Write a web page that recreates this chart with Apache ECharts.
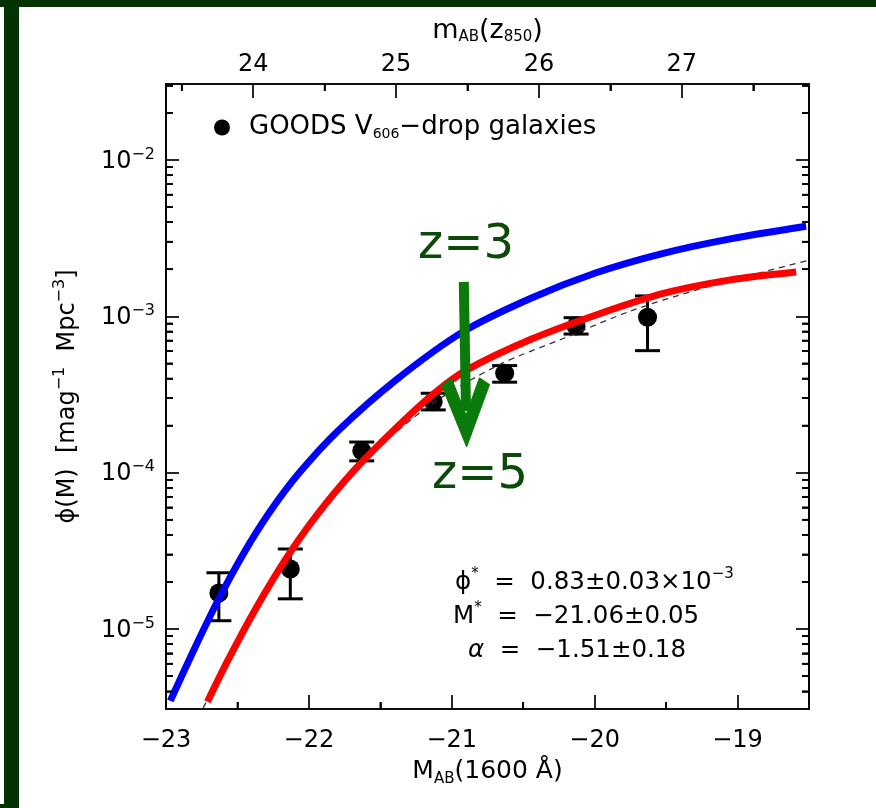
<!DOCTYPE html>
<html>
<head>
<meta charset="utf-8">
<script src="https://cdn.jsdelivr.net/npm/echarts@6/dist/echarts.min.js"></script>
<style>
  html, body { margin: 0; padding: 0; background: #fff; }
  #chart { position: absolute; left: 0; top: 0; width: 876px; height: 808px; }
  .band { position: absolute; background: #033303; }
</style>
</head>
<body>
<div id="chart"></div>
<div class="band" style="left:0;top:0;width:876px;height:7px;"></div>
<div class="band" style="left:4px;top:0;width:15px;height:808px;"></div>
<div class="band" style="left:0;top:804px;width:19px;height:4px;"></div>
<script>
// ---- axis extents and ticks ----
const xMin = -23, xMax = -18.5;          // M_AB(1600 A)
const yMin = 3.08e-6, yMax = 3.06e-2;    // phi(M)
const magOffset = 46.39;                 // m_AB(z850) - M_AB(1600 A)

const bottomTicks = [-23, -22, -21, -20, -19];
const bottomMinor = [-22.5, -21.5, -20.5, -19.5];
const topTicks = [24, 25, 26, 27];
const topMinor = [23.5, 24.5, 25.5, 26.5, 27.5];
const decadeTicks = [1e-5, 1e-4, 1e-3, 1e-2];
const minorMantissas = [2, 3, 4, 5, 6, 7, 8, 9];
const minorDecades = [1e-6, 1e-5, 1e-4, 1e-3, 1e-2];

// ---- GOODS V606-drop luminosity function ----
const absMag  = [-22.63, -22.13, -21.63, -21.13, -20.63, -20.13, -19.63];
const phiObs  = [1.70e-5, 2.42e-5, 1.38e-4, 2.84e-4, 4.33e-4, 8.67e-4, 9.86e-4];
const phiLow  = [1.13e-5, 1.56e-5, 1.19e-4, 2.52e-4, 3.79e-4, 7.70e-4, 6.03e-4];
const phiHigh = [2.29e-5, 3.25e-5, 1.57e-4, 3.22e-4, 4.84e-4, 9.80e-4, 1.35e-3];

// z=3 luminosity function (blue)
const z3M   = [-22.97, -22.81, -22.64, -22.46, -22.28, -22.07, -21.79, -21.39, -20.92, -20.45, -19.99, -19.52, -19.05, -18.52];
const z3Phi = [3.47e-6, 7.19e-6, 1.50e-5, 3.01e-5, 5.5e-5, 9.9e-5, 1.875e-4, 3.92e-4, 7.98e-4, 1.30e-3, 1.90e-3, 2.53e-3, 3.13e-3, 3.77e-3];

// z=5 luminosity function (red)
const z5M   = [-22.71, -22.56, -22.37, -22.16, -21.95, -21.69, -21.37, -21.13, -20.90, -20.45, -19.99, -19.52, -19.05, -18.59];
const z5Phi = [3.43e-6, 6.49e-6, 1.36e-5, 2.82e-5, 5.28e-5, 1.02e-4, 2.01e-4, 3.18e-4, 4.51e-4, 7.10e-4, 1.02e-3, 1.40e-3, 1.71e-3, 1.92e-3];

// Schechter fit (dashed)
const fitM   = [-22.74, -22.42, -22.07, -21.58, -21.16, -20.67, -20.22, -19.75, -19.26, -18.82, -18.50];
const fitPhi = [3.13e-6, 1.09e-5, 3.77e-5, 1.25e-4, 2.67e-4, 4.89e-4, 7.21e-4, 1.08e-3, 1.50e-3, 1.92e-3, 2.29e-3];

// arrow from the z=3 curve down to the z=5 curve: [M, phi]
const arrowTail = [-20.916, 1.66e-3];
const arrowTip  = [-20.896, 1.46e-4];

const minorTicks = [];
minorDecades.forEach(d => minorMantissas.forEach(m => {
  const v = m * d;
  if (v > yMin && v < yMax) minorTicks.push(v);
}));

const GRID = { left: 166, top: 84, width: 643, height: 625 };
const FONT = '"DejaVu Sans", "Liberation Sans", sans-serif';
const BLACK = '#000';
const lineStyle = { color: BLACK, width: 1.7 };
const minus = s => String(s).replace('-', '\u2212');
const pairs = (xs, ys) => xs.map((x, i) => [x, ys[i]]);
const SMOOTH = 0.3;
const MINOR_LEN = 7;

const chart = echarts.init(document.getElementById('chart'), null, { renderer: 'canvas' });

const supRich = {
  t: { fontFamily: FONT, fontSize: 24.5, color: BLACK, lineHeight: 28, verticalAlign: 'bottom' },
  g: { fontFamily: FONT, fontSize: 24.5, color: BLACK, lineHeight: 28, verticalAlign: 'bottom', fontStyle: 'italic' },
  s: { fontFamily: FONT, fontSize: 15, color: BLACK, lineHeight: 15, verticalAlign: 'top' }
};

// axes that only carry the short minor ticks along the frame
const minorXAxis = (position, min, max, values) => ({
  type: 'value', position, min, max,
  axisLine: { show: true, onZero: false, lineStyle },
  axisTick: { show: true, inside: true, length: MINOR_LEN, customValues: values, lineStyle },
  axisLabel: { show: false },
  splitLine: { show: false }
});
const minorYAxis = position => ({
  type: 'log', logBase: 10, position, min: yMin, max: yMax,
  axisLine: { show: true, onZero: false, lineStyle },
  axisTick: { show: true, inside: true, length: MINOR_LEN, customValues: minorTicks, lineStyle },
  axisLabel: { show: false },
  splitLine: { show: false }
});

const option = {
  animation: false,
  backgroundColor: '#fff',
  grid: Object.assign({ show: false, outerBoundsMode: 'none' }, GRID),
  xAxis: [
    {
      type: 'value', position: 'bottom', min: xMin, max: xMax,
      axisLine: { show: true, onZero: false, lineStyle },
      axisTick: { show: true, inside: true, length: 14, customValues: bottomTicks, lineStyle },
      axisLabel: { show: true, customValues: bottomTicks, color: BLACK, fontFamily: FONT, fontSize: 24, margin: 20, formatter: v => minus(v) },
      splitLine: { show: false },
      name: '{t|M}{s|AB}{t|(1600 \u00c5)}',
      nameLocation: 'middle', nameGap: 50,
      nameTextStyle: {
        rich: {
          t: { fontFamily: FONT, fontSize: 25, color: BLACK, lineHeight: 28, verticalAlign: 'top' },
          s: { fontFamily: FONT, fontSize: 15, color: BLACK, lineHeight: 15, verticalAlign: 'bottom' }
        }
      }
    },
    {
      type: 'value', position: 'top', min: xMin + magOffset, max: xMax + magOffset,
      axisLine: { show: true, onZero: false, lineStyle },
      axisTick: { show: true, inside: true, length: 14, customValues: topTicks, lineStyle },
      axisLabel: { show: true, customValues: topTicks, color: BLACK, fontFamily: FONT, fontSize: 24, margin: 7 },
      splitLine: { show: false },
      name: '{t|m}{s|AB}{t|(z}{s|850}{t|)}',
      nameLocation: 'middle', nameGap: 39,
      nameTextStyle: {
        rich: {
          t: { fontFamily: FONT, fontSize: 27, color: BLACK, lineHeight: 28, verticalAlign: 'top' },
          s: { fontFamily: FONT, fontSize: 15, color: BLACK, lineHeight: 15, verticalAlign: 'bottom' }
        }
      }
    },
    minorXAxis('bottom', xMin, xMax, bottomMinor),
    minorXAxis('top', xMin + magOffset, xMax + magOffset, topMinor)
  ],
  yAxis: [
    {
      type: 'log', logBase: 10, position: 'left', min: yMin, max: yMax,
      axisLine: { show: true, onZero: false, lineStyle },
      axisTick: { show: true, inside: true, length: 13, customValues: decadeTicks, lineStyle },
      axisLabel: {
        show: true, customValues: decadeTicks, margin: 11,
        formatter: v => '{b|10}{s|\u2212' + Math.abs(Math.round(Math.log10(v))) + '}',
        rich: {
          b: { fontFamily: FONT, fontSize: 24, color: BLACK, lineHeight: 27, verticalAlign: 'bottom' },
          s: { fontFamily: FONT, fontSize: 16, color: BLACK, lineHeight: 16, verticalAlign: 'top' }
        }
      },
      splitLine: { show: false },
      name: '{t|\u03d5(M)  [mag}{s|\u22121}{t|  Mpc}{s|\u22123}{t|]}',
      nameLocation: 'middle', nameGap: 86, nameRotate: 90,
      nameTextStyle: {
        rich: {
          t: { fontFamily: FONT, fontSize: 24, color: BLACK, lineHeight: 28, verticalAlign: 'bottom' },
          s: { fontFamily: FONT, fontSize: 16, color: BLACK, lineHeight: 16, verticalAlign: 'top' }
        }
      }
    },
    {
      type: 'log', logBase: 10, position: 'right', min: yMin, max: yMax,
      axisLine: { show: true, onZero: false, lineStyle },
      axisTick: { show: true, inside: true, length: 13, customValues: decadeTicks, lineStyle },
      axisLabel: { show: false },
      splitLine: { show: false }
    },
    minorYAxis('left'),
    minorYAxis('right')
  ],
  legend: {
    show: true, data: ['GOODS V606-drop galaxies'],
    left: 214, top: 114, padding: 0,
    icon: 'circle', itemWidth: 16, itemHeight: 16,
    formatter: () => '{g| }{t|GOODS V}{s|606}{t|\u2212drop galaxies}',
    textStyle: {
      rich: {
        g: { width: 14 },
        t: { fontFamily: FONT, fontSize: 26, color: BLACK, lineHeight: 27, verticalAlign: 'top' },
        s: { fontFamily: FONT, fontSize: 14, color: BLACK, lineHeight: 14, verticalAlign: 'bottom' }
      }
    }
  },
  series: [
    {
      type: 'custom', name: 'errors', xAxisIndex: 0, yAxisIndex: 0, z: 2,
      data: absMag.map((m, i) => [m, phiLow[i], phiHigh[i]]),
      encode: { x: 0, y: [1, 2] },
      renderItem: (params, api) => {
        const lo = api.coord([api.value(0), api.value(1)]);
        const hi = api.coord([api.value(0), api.value(2)]);
        const hw = 12.5;
        const st = { stroke: BLACK, lineWidth: 3, fill: null };
        return {
          type: 'group', children: [
            { type: 'line', shape: { x1: lo[0], y1: lo[1], x2: hi[0], y2: hi[1] }, style: st },
            { type: 'line', shape: { x1: lo[0] - hw, y1: lo[1], x2: lo[0] + hw, y2: lo[1] }, style: st },
            { type: 'line', shape: { x1: hi[0] - hw, y1: hi[1], x2: hi[0] + hw, y2: hi[1] }, style: st }
          ]
        };
      }
    },
    {
      type: 'scatter', name: 'GOODS V606-drop galaxies', xAxisIndex: 0, yAxisIndex: 0, z: 3,
      data: pairs(absMag, phiObs), symbol: 'circle', symbolSize: 19,
      itemStyle: { color: BLACK, opacity: 1 }
    },
    {
      type: 'line', name: 'fit', xAxisIndex: 0, yAxisIndex: 0, z: 4,
      data: pairs(fitM, fitPhi), smooth: SMOOTH, showSymbol: false, clip: true,
      lineStyle: { color: '#333', width: 1.3, type: [6, 5] }
    },
    {
      type: 'line', name: 'z=3', xAxisIndex: 0, yAxisIndex: 0, z: 5,
      data: pairs(z3M, z3Phi), smooth: SMOOTH, showSymbol: false, clip: true,
      lineStyle: { color: '#0000ff', width: 7, cap: 'butt' }
    },
    {
      type: 'line', name: 'z=5', xAxisIndex: 0, yAxisIndex: 0, z: 6,
      data: pairs(z5M, z5Phi), smooth: SMOOTH, showSymbol: false, clip: true,
      lineStyle: { color: '#ff0000', width: 7, cap: 'butt' }
    }
  ],
  graphic: [
    { type: 'text', id: 'phiStar', x: 455, y: 581, z: 50,
      style: { text: '{t|\u03d5}{s|*}{t|  =  0.83\u00b10.03\u00d710}{s|\u22123}', rich: supRich, verticalAlign: 'middle' } },
    { type: 'text', id: 'mStar', x: 453, y: 615, z: 50,
      style: { text: '{t|M}{s|*}{t|  =  \u221221.06\u00b10.05}', rich: supRich, verticalAlign: 'middle' } },
    { type: 'text', id: 'alpha', x: 468, y: 649, z: 50,
      style: { text: '{g|\u03b1}{t|  =  \u22121.51\u00b10.18}', rich: supRich, verticalAlign: 'middle' } },
    { type: 'text', id: 'z3', x: 418, y: 246, z: 60,
      style: { text: 'z=3', fill: '#0b4a0b', font: '48px "DejaVu Sans", sans-serif', verticalAlign: 'middle' } },
    { type: 'text', id: 'z5', x: 432, y: 476, z: 60,
      style: { text: 'z=5', fill: '#0b4a0b', font: '48px "DejaVu Sans", sans-serif', verticalAlign: 'middle' } }
  ]
};

chart.setOption(option);

const conv = p => {
  const q = chart.convertToPixel({ xAxisIndex: 0, yAxisIndex: 0 }, p);
  return [q[0], q[1]];
};
// pixel position along a single axis, taken from that axis' scale
const axisPixel = (finder, value, fallback) => {
  const r = chart.convertToPixel(finder, value);
  const n = Array.isArray(r) ? r[0] : r;
  return Number.isFinite(n) ? n : fallback();
};
const logSpan = Math.log10(yMax) - Math.log10(yMin);
const yPix = v => axisPixel({ yAxisIndex: 0 }, v,
  () => GRID.top + GRID.height * (Math.log10(yMax) - Math.log10(v)) / logSpan);
const xPix = m => axisPixel({ xAxisIndex: 0 }, m,
  () => GRID.left + GRID.width * (m - xMin) / (xMax - xMin));
const topPix = m => axisPixel({ xAxisIndex: 1 }, m,
  () => GRID.left + GRID.width * (m - magOffset - xMin) / (xMax - xMin));

const extra = [];
const xLeft = GRID.left, xRight = GRID.left + GRID.width;
const yTop = GRID.top, yBottom = GRID.top + GRID.height;

// minor ticks on all four frame edges
const tickSeg = (x1, y1, x2, y2, k) => ({
  type: 'polyline', id: 'minorTick' + k, z: 65,
  shape: { points: [[x1, y1], [x2, y2]] },
  style: { stroke: '#000000', lineWidth: 1.7, fill: null }
});
let k = 0;
minorTicks.forEach(v => {
  const y = yPix(v);
  extra.push(tickSeg(xLeft, y, xLeft + MINOR_LEN, y, k++));
  extra.push(tickSeg(xRight - MINOR_LEN, y, xRight, y, k++));
});
bottomMinor.forEach(m => {
  const x = xPix(m);
  extra.push(tickSeg(x, yBottom, x, yBottom - MINOR_LEN, k++));
});
topMinor.forEach(m => {
  const x = topPix(m);
  extra.push(tickSeg(x, yTop, x, yTop + MINOR_LEN, k++));
});

// green arrow between the two curves, placed in data coordinates
(function () {
  const tail = conv(arrowTail), tip = conv(arrowTip);
  const dx = tip[0] - tail[0], dy = tip[1] - tail[1];
  const len = Math.hypot(dx, dy);
  const u = [dx / len, dy / len];       // along the arrow
  const v = [-u[1], u[0]];               // across the arrow
  const at = (a, b) => [tip[0] - a * u[0] + b * v[0], tip[1] - a * u[1] + b * v[1]];
  const head = [at(0, 0), at(62, 24), at(69, 14), at(32, 0), at(69, -14), at(62, -24)];
  extra.push({ type: 'polyline', id: 'arrowShaft', z: 70, shape: { points: [tail, at(36, 0)] },
    style: { stroke: '#0a7a0a', lineWidth: 10, fill: null } });
  extra.push({ type: 'polygon', id: 'arrowHead', z: 70, shape: { points: head },
    style: { fill: '#0a7a0a', stroke: '#0a7a0a', lineWidth: 1, lineJoin: 'round' } });
})();

chart.setOption({ graphic: option.graphic.concat(extra) });
</script>
</body>
</html>
